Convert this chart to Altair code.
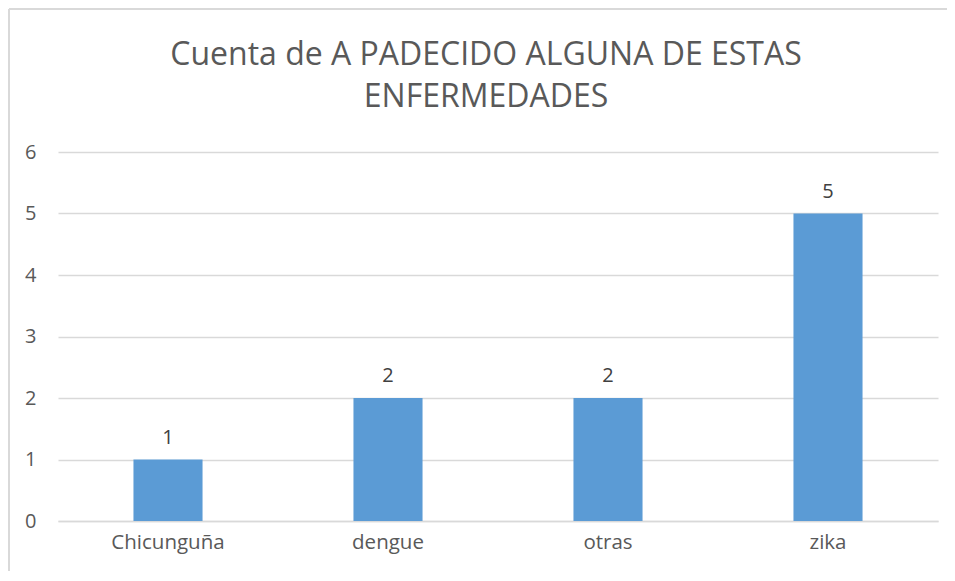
import altair as alt
import pandas as pd

categories = ["Chicunguña", "dengue", "otras", "zika"]
counts = [1, 2, 2, 5]
title_lines = ["Cuenta de A PADECIDO ALGUNA DE ESTAS", "ENFERMEDADES"]

df = pd.DataFrame({"categoria": categories, "cuenta": counts})

FONT = "Open Sans"
TXT = "#595959"
GRID = "#D9D9D9"
BAR = "#5B9BD5"

x = alt.X(
    "categoria:N",
    sort=categories,
    title=None,
    scale=alt.Scale(paddingInner=0.686, paddingOuter=0.343),
    axis=alt.Axis(
        labelAngle=0, labelFontSize=20.5, labelColor=TXT, labelFont=FONT,
        labelPadding=11, ticks=False, domainColor=GRID, domainWidth=1.5,
    ),
)
y = alt.Y(
    "cuenta:Q",
    title=None,
    scale=alt.Scale(domain=[0, 6], nice=False),
    axis=alt.Axis(
        values=[0, 1, 2, 3, 4, 5, 6], format="d", labelFontSize=20,
        labelColor=TXT, labelFont=FONT, labelPadding=22, ticks=False,
        domain=False, gridColor=GRID, gridWidth=1.5,
    ),
)

bars = alt.Chart(df).mark_bar(color=BAR).encode(x=x, y=y)
labels = alt.Chart(df).mark_text(
    baseline="bottom", dy=-12, fontSize=20, color="#404040", font=FONT
).encode(x=alt.X("categoria:N", sort=categories), y="cuenta:Q", text="cuenta:Q")

frame_top = alt.Chart(df).mark_rule(
    stroke=GRID, strokeWidth=1.5, clip=False
).encode(x=alt.value(-49), x2=alt.value(889), y=alt.value(-143))
frame_left = alt.Chart(df).mark_rule(
    stroke=GRID, strokeWidth=1.5, clip=False
).encode(x=alt.value(-49), y=alt.value(-143), y2=alt.value(419))

chart = alt.layer(frame_top, frame_left, bars, labels).properties(
    width=880,
    height=369,
    padding={"left": 50, "top": 144, "right": 9, "bottom": 50},
    autosize=alt.AutoSizeParams(type="none"),
    title=alt.TitleParams(
        text=title_lines, fontSize=32, font=FONT, fontWeight="normal",
        color=TXT, anchor="middle", frame="group", offset=-106, lineHeight=42,
        dx=-12,
    ),
).configure_view(stroke=None)

chart.save("out.html", embed_options={"renderer": "svg", "actions": False})
